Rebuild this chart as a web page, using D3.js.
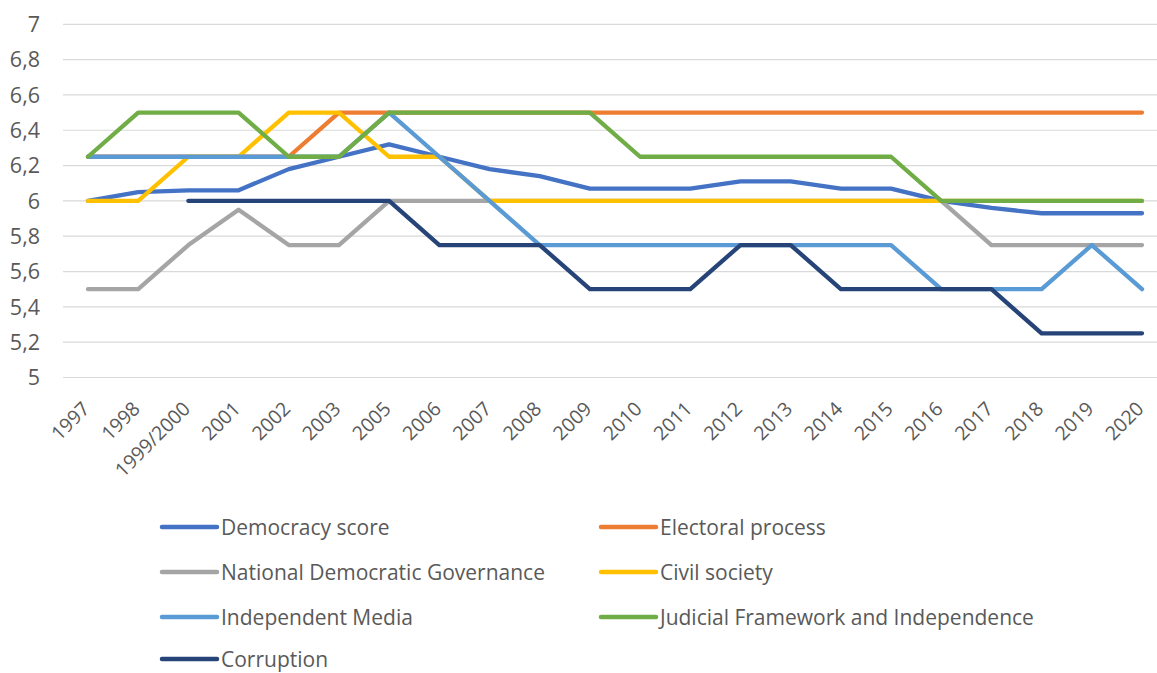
<!DOCTYPE html>
<html><head><meta charset="utf-8">
<script src="https://cdn.jsdelivr.net/npm/d3@7"></script>
<style>body{margin:0;background:#fff;} text{font-family:"Open Sans", sans-serif; fill:#595959;}</style>
</head><body><svg id="c" width="1157" height="673"></svg>
<script>
const categories = ["1997","1998","1999/2000","2001","2002","2003","2005","2006","2007","2008","2009","2010","2011","2012","2013","2014","2015","2016","2017","2018","2019","2020"];
const yTicks = [5,5.2,5.4,5.6,5.8,6,6.2,6.4,6.6,6.8,7];
const democracyScore = [6.00,6.05,6.06,6.06,6.18,6.25,6.32,6.25,6.18,6.14,6.07,6.07,6.07,6.11,6.11,6.07,6.07,6.00,5.96,5.93,5.93,5.93];
const electoralProcess = [6.25,6.25,6.25,6.25,6.25,6.5,6.5,6.5,6.5,6.5,6.5,6.5,6.5,6.5,6.5,6.5,6.5,6.5,6.5,6.5,6.5,6.5];
const nationalGovernance = [5.5,5.5,5.75,5.95,5.75,5.75,6.0,6.0,6.0,6.0,6.0,6.0,6.0,6.0,6.0,6.0,6.0,6.0,5.75,5.75,5.75,5.75];
const civilSociety = [6.0,6.0,6.25,6.25,6.5,6.5,6.25,6.25,6.0,6.0,6.0,6.0,6.0,6.0,6.0,6.0,6.0,6.0,6.0,6.0,6.0,6.0];
const independentMedia = [6.25,6.25,6.25,6.25,6.25,6.25,6.5,6.25,6.0,5.75,5.75,5.75,5.75,5.75,5.75,5.75,5.75,5.5,5.5,5.5,5.75,5.5];
const judicialFramework = [6.25,6.5,6.5,6.5,6.25,6.25,6.5,6.5,6.5,6.5,6.5,6.25,6.25,6.25,6.25,6.25,6.25,6.0,6.0,6.0,6.0,6.0];
const corruption = [null,null,6.0,6.0,6.0,6.0,6.0,5.75,5.75,5.75,5.5,5.5,5.5,5.75,5.75,5.5,5.5,5.5,5.5,5.25,5.25,5.25];
const seriesNames = ["Democracy score","Electoral process","National Democratic Governance","Civil society","Independent Media","Judicial Framework and Independence","Corruption"];
const seriesColors = ["#4472C4","#ED7D31","#A5A5A5","#FFC000","#5B9BD5","#70AD47","#264478"];
const seriesValues = [democracyScore,electoralProcess,nationalGovernance,civilSociety,independentMedia,judicialFramework,corruption];

const svg = d3.select("#c");
const x = d3.scalePoint().domain(categories).range([88,1142]);
const y = d3.scaleLinear().domain([5,7]).range([377.5,24.3]);
const gridLeft = 63, gridRight = 1157;

svg.append("g").selectAll("line").data(yTicks).join("line")
  .attr("x1",gridLeft).attr("x2",gridRight)
  .attr("y1",d=>y(d)).attr("y2",d=>y(d))
  .attr("stroke","#D9D9D9").attr("stroke-width",1.2);

svg.append("g").selectAll("text").data(yTicks).join("text")
  .attr("x",40).attr("y",d=>y(d)).attr("dy","0.36em")
  .attr("text-anchor","end").attr("font-size",21.5)
  .text(d=>String(d).replace(".",","));

svg.append("g").selectAll("text").data(categories).join("text")
  .attr("text-anchor","end").attr("font-size",19.5)
  .attr("transform",d=>`translate(${x(d)+3},${410}) rotate(-45)`)
  .text(d=>d);

const line = d3.line().defined(d=>d.v!=null).x(d=>x(d.c)).y(d=>y(d.v));
seriesValues.forEach((vals,i)=>{
  svg.append("path")
    .datum(vals.map((v,j)=>({c:categories[j],v})))
    .attr("d",line).attr("fill","none")
    .attr("stroke",seriesColors[i]).attr("stroke-width",4.3)
    .attr("stroke-linejoin","round").attr("stroke-linecap","round");
});

const legendRows = [527,572,617,659];
const legendCols = [162,601];
seriesNames.forEach((n,i)=>{
  const lx = legendCols[i%2], ly = legendRows[Math.floor(i/2)];
  svg.append("line").attr("x1",lx).attr("x2",lx+55).attr("y1",ly).attr("y2",ly)
    .attr("stroke",seriesColors[i]).attr("stroke-width",4.5).attr("stroke-linecap","round");
  svg.append("text").attr("x",lx+59).attr("y",ly).attr("dy","0.36em")
    .attr("font-size",21).text(n);
});
</script></body></html>
